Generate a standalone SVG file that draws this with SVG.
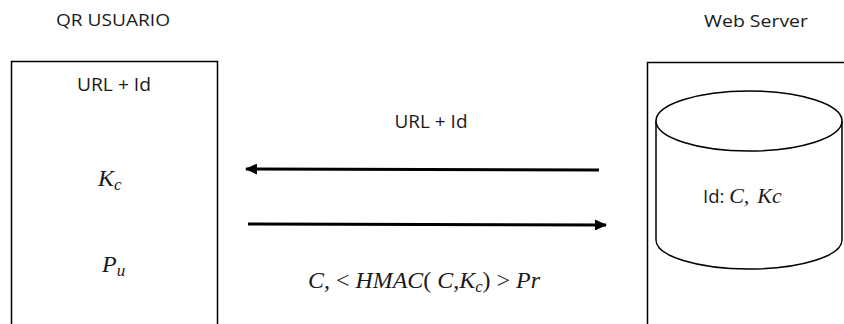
<svg xmlns="http://www.w3.org/2000/svg" width="844" height="324" viewBox="0 0 844 324">
<style>
.box{fill:#fff;stroke:#000;stroke-width:1.5}
.sans{font-family:"Open Sans","Liberation Sans",sans-serif;fill:#1a1a1a}
.math{font-family:"Liberation Serif","DejaVu Serif",serif;font-style:italic;fill:#1a1a1a}
.up{font-style:normal}
.conn{stroke:#000;stroke-width:3;fill:none}
</style>
<defs>
<marker id="ah" viewBox="0 0 12 11" refX="11" refY="5.5" markerWidth="12" markerHeight="11" markerUnits="userSpaceOnUse" orient="auto">
<path d="M0,0 L12,5.5 L0,11 Z" fill="#000"/>
</marker>
</defs>
<rect width="844" height="324" fill="#fff"/>
<text class="sans" x="113" y="26" font-size="16.5" text-anchor="middle" textLength="114" lengthAdjust="spacingAndGlyphs">QR USUARIO</text>
<text class="sans" x="756" y="27" font-size="16.5" text-anchor="middle" textLength="104" lengthAdjust="spacingAndGlyphs">Web Server</text>
<g id="qr-usuario">
<rect class="box" x="11.5" y="61.5" width="206" height="290"/>
<text class="sans" x="114" y="91" font-size="18.5" text-anchor="middle" textLength="74" lengthAdjust="spacingAndGlyphs">URL + Id</text>
<text class="math" x="98" y="186" font-size="24">K<tspan font-size="17" dy="4">c</tspan></text>
<text class="math" x="102" y="272" font-size="24">P<tspan font-size="17" dy="4">u</tspan></text>
</g>
<g id="web-server">
<rect class="box" x="647.5" y="62.5" width="220" height="290"/>
<g id="database">
<path class="box" d="M656,121 L656,240 A93,29 0 0 0 842,240 L842,121"/>
<ellipse class="box" cx="749" cy="121" rx="93" ry="30"/>
<text x="703" y="203" font-size="18.5"><tspan class="sans">Id: </tspan><tspan class="math" font-size="22">C,</tspan><tspan class="math" font-size="22" dx="8">Kc</tspan></text>
</g>
</g>
<g id="connectors">
<line class="conn" x1="599" y1="170" x2="246" y2="169" marker-end="url(#ah)"/>
<line class="conn" x1="248" y1="224" x2="606" y2="225" marker-end="url(#ah)"/>
<text class="sans" x="431" y="128" font-size="18.5" text-anchor="middle" textLength="73" lengthAdjust="spacingAndGlyphs">URL + Id</text>
<text class="math" x="308" y="288" font-size="23" textLength="232" lengthAdjust="spacingAndGlyphs">C<tspan class="up">, &lt; </tspan>HMAC<tspan class="up">( </tspan>C<tspan class="up">,</tspan>K<tspan font-size="16" dy="4">c</tspan><tspan class="up" dy="-4">) &gt; </tspan>Pr</text>
</g>
</svg>
